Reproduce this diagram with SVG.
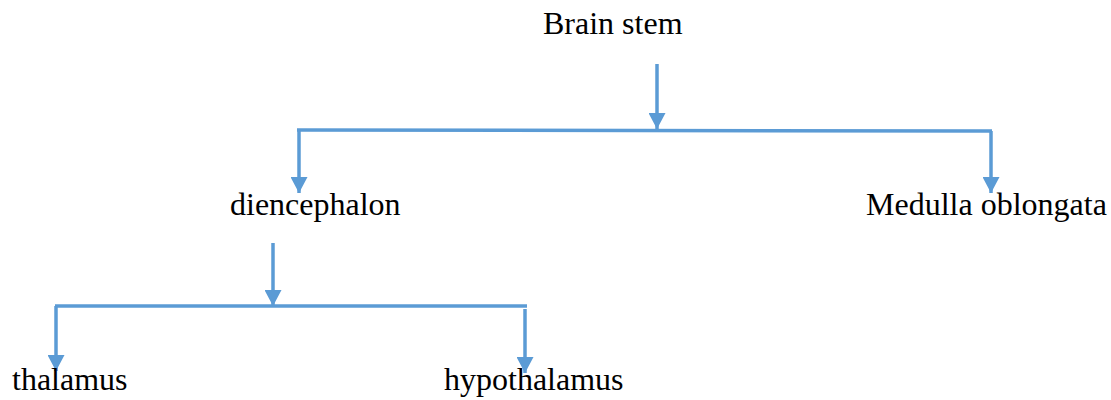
<svg xmlns="http://www.w3.org/2000/svg" width="1111" height="400" viewBox="0 0 1111 400">
<style>
.lbl{font-family:"Liberation Serif","Times New Roman",serif;font-size:32px;fill:#000}
.c{stroke:#5B9BD5;stroke-width:3.5;fill:none}
.a{marker-end:url(#ah)}
</style>
<defs>
<marker id="ah" markerUnits="userSpaceOnUse" markerWidth="16" markerHeight="17" viewBox="0 0 16 17" refX="16" refY="8.5" orient="auto">
<path d="M0,0 L16,8.5 L0,17 z" fill="#5B9BD5"/>
</marker>
</defs>
<rect width="1111" height="400" fill="#fff"/>
<g id="connectors">
<line class="c a" x1="657" y1="64" x2="657" y2="129"/>
<line class="c" x1="297" y1="130" x2="992" y2="131"/>
<line class="c a" x1="299" y1="130" x2="299" y2="193"/>
<line class="c a" x1="991" y1="131" x2="991" y2="193"/>
<line class="c a" x1="273" y1="243" x2="273" y2="306"/>
<line class="c" x1="55" y1="306" x2="527" y2="306"/>
<line class="c a" x1="56" y1="306" x2="56" y2="371"/>
<line class="c a" x1="525" y1="309" x2="525" y2="373"/>
</g>
<g id="brain-stem"><text class="lbl" x="543" y="34">Brain stem</text></g>
<g id="diencephalon"><text class="lbl" x="230" y="215">diencephalon</text></g>
<g id="medulla-oblongata"><text class="lbl" x="866" y="215">Medulla oblongata</text></g>
<g id="thalamus"><text class="lbl" x="12" y="390">thalamus</text></g>
<g id="hypothalamus"><text class="lbl" x="444" y="390">hypothalamus</text></g>
</svg>
